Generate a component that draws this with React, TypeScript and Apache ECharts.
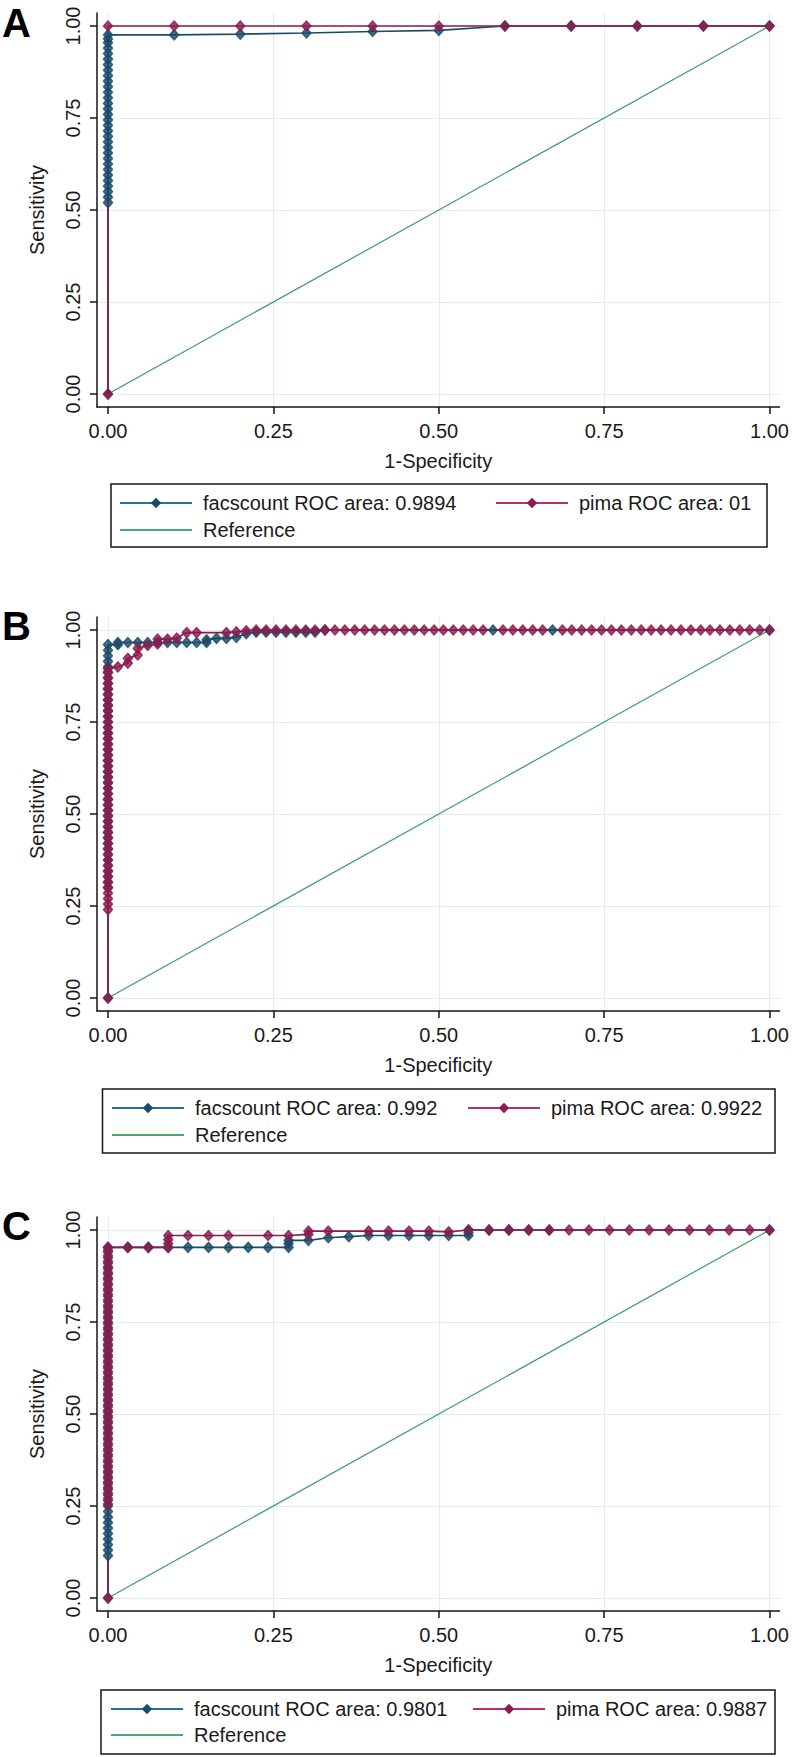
import React, { useEffect, useRef } from "react";
import * as echarts from "echarts";

const FONT = "'Liberation Sans', Arial, Helvetica, sans-serif";

const tickValues = [0, 0.25, 0.5, 0.75, 1];
const panelLetters = ["A", "B", "C"];
const facsNames = ["facscount ROC area: 0.9894", "facscount ROC area: 0.992", "facscount ROC area: 0.9801"];
const pimaNames = ["pima ROC area: 01", "pima ROC area: 0.9922", "pima ROC area: 0.9887"];
const refName = "Reference";

// Reference diagonal
const refLine: [number, number][] = [[0, 0], [1, 1]];

// Panel A
const aFacs: [number, number][] = [
  [0, 0], [0, 0.52], [0, 0.535], [0, 0.55], [0, 0.565], [0, 0.58], [0, 0.595], [0, 0.61], [0, 0.625],
  [0, 0.64], [0, 0.655], [0, 0.67], [0, 0.685], [0, 0.7], [0, 0.715], [0, 0.73], [0, 0.745], [0, 0.76],
  [0, 0.775], [0, 0.79], [0, 0.805], [0, 0.82], [0, 0.835], [0, 0.85], [0, 0.865], [0, 0.88], [0, 0.895],
  [0, 0.91], [0, 0.925], [0, 0.94], [0, 0.955], [0, 0.965], [0, 0.976],
  [0.1, 0.976], [0.2, 0.978], [0.3, 0.981], [0.4, 0.985], [0.5, 0.988], [0.6, 1],
  [0.7, 1], [0.8, 1], [0.9, 1], [1, 1],
];
const aPima: [number, number][] = [
  [0, 0], [0, 1], [0.1, 1], [0.2, 1], [0.3, 1], [0.4, 1], [0.5, 1], [0.6, 1], [0.7, 1], [0.8, 1], [0.9, 1], [1, 1],
];

// Panel B
const bFacs: [number, number][] = [
  [0, 0], [0, 0.3], [0, 0.315], [0, 0.33], [0, 0.345], [0, 0.36], [0, 0.375], [0, 0.39], [0, 0.405],
  [0, 0.42], [0, 0.435], [0, 0.45], [0, 0.465], [0, 0.48], [0, 0.495], [0, 0.51], [0, 0.525], [0, 0.54],
  [0, 0.555], [0, 0.57], [0, 0.585], [0, 0.6], [0, 0.615], [0, 0.63], [0, 0.645], [0, 0.66], [0, 0.675],
  [0, 0.69], [0, 0.705], [0, 0.72], [0, 0.735], [0, 0.75], [0, 0.765], [0, 0.78], [0, 0.795], [0, 0.81],
  [0, 0.825], [0, 0.84], [0, 0.855], [0, 0.87], [0, 0.885], [0, 0.9], [0, 0.915], [0, 0.93], [0, 0.945], [0, 0.96],
  [0.015, 0.96], [0.015, 0.966], [0.03, 0.966], [0.045, 0.966], [0.06, 0.966], [0.075, 0.966], [0.09, 0.966],
  [0.104, 0.966], [0.119, 0.966], [0.134, 0.966], [0.149, 0.966], [0.149, 0.973], [0.164, 0.977], [0.179, 0.977],
  [0.194, 0.98], [0.209, 0.99], [0.224, 0.994], [0.239, 0.994], [0.254, 0.994], [0.269, 0.994], [0.284, 0.994],
  [0.299, 0.994], [0.313, 0.994], [0.328, 1], [0.582, 1], [0.672, 1], [1, 1],
];
const bPima: [number, number][] = [
  [0, 0], [0, 0.24], [0, 0.255], [0, 0.27], [0, 0.285], [0, 0.3], [0, 0.315], [0, 0.33], [0, 0.345], [0, 0.36],
  [0, 0.375], [0, 0.39], [0, 0.405], [0, 0.42], [0, 0.435], [0, 0.45], [0, 0.465], [0, 0.48], [0, 0.495],
  [0, 0.51], [0, 0.525], [0, 0.54], [0, 0.555], [0, 0.57], [0, 0.585], [0, 0.6], [0, 0.615], [0, 0.63],
  [0, 0.645], [0, 0.66], [0, 0.675], [0, 0.69], [0, 0.705], [0, 0.72], [0, 0.735], [0, 0.75], [0, 0.765],
  [0, 0.78], [0, 0.795], [0, 0.81], [0, 0.825], [0, 0.84], [0, 0.855], [0, 0.87], [0, 0.885], [0, 0.895],
  [0.015, 0.9], [0.03, 0.91], [0.03, 0.923], [0.045, 0.932], [0.045, 0.95], [0.06, 0.958], [0.075, 0.962],
  [0.075, 0.975], [0.09, 0.975], [0.104, 0.978], [0.119, 0.993], [0.134, 0.993], [0.179, 0.993], [0.194, 0.995],
  [0.209, 0.998], [0.224, 1], [0.239, 1], [0.254, 1], [0.269, 1], [0.284, 1], [0.299, 1], [0.313, 1], [0.328, 1],
  [0.343, 1], [0.358, 1], [0.373, 1], [0.388, 1], [0.403, 1], [0.418, 1], [0.433, 1], [0.448, 1], [0.463, 1],
  [0.478, 1], [0.493, 1], [0.507, 1], [0.522, 1], [0.537, 1], [0.552, 1], [0.567, 1], [0.597, 1], [0.612, 1],
  [0.627, 1], [0.642, 1], [0.657, 1], [0.687, 1], [0.701, 1], [0.716, 1], [0.731, 1], [0.746, 1], [0.761, 1],
  [0.776, 1], [0.791, 1], [0.806, 1], [0.821, 1], [0.836, 1], [0.851, 1], [0.866, 1], [0.881, 1], [0.896, 1],
  [0.91, 1], [0.925, 1], [0.94, 1], [0.955, 1], [0.97, 1], [0.985, 1], [1, 1],
];

// Panel C
const cFacs: [number, number][] = [
  [0, 0], [0, 0.115], [0, 0.13], [0, 0.145], [0, 0.16], [0, 0.175], [0, 0.19], [0, 0.205], [0, 0.22],
  [0, 0.235], [0, 0.25], [0, 0.265], [0, 0.28], [0, 0.295], [0, 0.31], [0, 0.325], [0, 0.34], [0, 0.355],
  [0, 0.37], [0, 0.385], [0, 0.4], [0, 0.415], [0, 0.43], [0, 0.445], [0, 0.46], [0, 0.475], [0, 0.49],
  [0, 0.505], [0, 0.52], [0, 0.535], [0, 0.55], [0, 0.565], [0, 0.58], [0, 0.595], [0, 0.61], [0, 0.625],
  [0, 0.64], [0, 0.655], [0, 0.67], [0, 0.685], [0, 0.7], [0, 0.715], [0, 0.73], [0, 0.745], [0, 0.76],
  [0, 0.775], [0, 0.79], [0, 0.805], [0, 0.82], [0, 0.835], [0, 0.85], [0, 0.865], [0, 0.88], [0, 0.895],
  [0, 0.91], [0, 0.925], [0, 0.94], [0, 0.953],
  [0.03, 0.953], [0.061, 0.953], [0.091, 0.953], [0.121, 0.953], [0.152, 0.953], [0.182, 0.953], [0.212, 0.953],
  [0.242, 0.953], [0.273, 0.953], [0.273, 0.963], [0.273, 0.972], [0.303, 0.972], [0.333, 0.979], [0.364, 0.982],
  [0.394, 0.985], [0.424, 0.985], [0.455, 0.985], [0.485, 0.985], [0.515, 0.985], [0.545, 0.985], [0.545, 0.993],
  [0.545, 1], [0.576, 1], [0.606, 1], [0.636, 1], [0.667, 1], [1, 1],
];
const cPima: [number, number][] = [
  [0, 0], [0, 0.255], [0, 0.27], [0, 0.285], [0, 0.3], [0, 0.315], [0, 0.33], [0, 0.345], [0, 0.36], [0, 0.375],
  [0, 0.39], [0, 0.405], [0, 0.42], [0, 0.435], [0, 0.45], [0, 0.465], [0, 0.48], [0, 0.495], [0, 0.51],
  [0, 0.525], [0, 0.54], [0, 0.555], [0, 0.57], [0, 0.585], [0, 0.6], [0, 0.615], [0, 0.63], [0, 0.645],
  [0, 0.66], [0, 0.675], [0, 0.69], [0, 0.705], [0, 0.72], [0, 0.735], [0, 0.75], [0, 0.765], [0, 0.78],
  [0, 0.795], [0, 0.81], [0, 0.825], [0, 0.84], [0, 0.855], [0, 0.87], [0, 0.885], [0, 0.9], [0, 0.915],
  [0, 0.93], [0, 0.945], [0, 0.953],
  [0.03, 0.953], [0.061, 0.953], [0.091, 0.953], [0.091, 0.963], [0.091, 0.974], [0.091, 0.985], [0.121, 0.985],
  [0.152, 0.985], [0.182, 0.985], [0.242, 0.985], [0.273, 0.985], [0.303, 0.988], [0.303, 0.997], [0.333, 0.997],
  [0.394, 0.997], [0.424, 0.997], [0.455, 0.997], [0.485, 0.997], [0.515, 0.995], [0.545, 1], [0.576, 1],
  [0.606, 1], [0.636, 1], [0.667, 1], [0.697, 1], [0.727, 1], [0.758, 1], [0.788, 1], [0.818, 1], [0.848, 1],
  [0.879, 1], [0.909, 1], [0.939, 1], [0.97, 1], [1, 1],
];

const facsData = [aFacs, bFacs, cFacs];
const pimaData = [aPima, bPima, cPima];

// Colours
const BLUE = "#1c4b69";
const PINK = "#8b1c4f";
const GREEN = "#3a9b62";
const GRIDC = "#e2eded";
const AXISC = "#151515";
const TEXTC = "#1a1a1a";

// Layout (pixels)
const panelTop = [26, 630, 1230]; // y of sensitivity = 1.00
const legendBox = [
  { x: 111, y: 484, w: 656, h: 63 },
  { x: 102.5, y: 1089, w: 672.5, h: 64 },
  { x: 101, y: 1690, w: 674, h: 64 },
];
const legendLeft = [[119, 495], [111, 467], [110, 472]];
const legendRowY = [[503, 530], [1108, 1135], [1709, 1735]];
const letterY = [8, 611, 1211];

export default function App() {
  const ref = useRef<HTMLDivElement>(null);
  useEffect(() => {
    if (!ref.current) return;
    const chart = echarts.init(ref.current, undefined, { renderer: "svg" });
    const grids: any[] = [];
    const xAxes: any[] = [];
    const yAxes: any[] = [];
    const series: any[] = [];
    const legends: any[] = [];
    const graphics: any[] = [];
    const xMin = -11 / 662, xMax = 1 + 10 / 662;
    const yMin = -13 / 368, yMax = 1 + 13 / 368;
    for (let p = 0; p < 3; p++) {
      grids.push({ left: 97, right: 12, top: panelTop[p] - 13, height: 394, containLabel: false });
      xAxes.push({
        gridIndex: p, type: "value", min: xMin, max: xMax,
        axisLine: { show: true, onZero: false, lineStyle: { color: AXISC, width: 1.5 } },
        axisTick: { show: true, length: 7, customValues: tickValues, lineStyle: { color: AXISC, width: 1.5 } },
        axisLabel: {
          customValues: tickValues, formatter: (v: number) => Number(v).toFixed(2), margin: 14,
          fontSize: 20, color: TEXTC, fontFamily: FONT,
        },
        splitLine: { show: false },
        name: "1-Specificity", nameLocation: "middle", nameGap: 44,
        nameTextStyle: { fontSize: 20, color: TEXTC, fontFamily: FONT },
      });
      yAxes.push({
        gridIndex: p, type: "value", min: yMin, max: yMax,
        axisLine: { show: true, onZero: false, lineStyle: { color: AXISC, width: 1.5 } },
        axisTick: { show: true, length: 7, customValues: tickValues, lineStyle: { color: AXISC, width: 1.5 } },
        axisLabel: {
          customValues: tickValues, formatter: (v: number) => Number(v).toFixed(2), margin: 14, rotate: 90,
          fontSize: 20, color: TEXTC, fontFamily: FONT,
        },
        splitLine: { show: false },
        name: "Sensitivity", nameLocation: "middle", nameGap: 50,
        nameTextStyle: { fontSize: 20, color: TEXTC, fontFamily: FONT },
      });
      series.push({
        type: "line", name: refName, xAxisIndex: p, yAxisIndex: p, data: refLine,
        symbol: "none", lineStyle: { color: GREEN, width: 1.2 }, itemStyle: { color: GREEN }, z: 1, silent: true,
        markLine: {
          silent: true, z: 0, symbol: ["none", "none"], label: { show: false }, animation: false,
          lineStyle: { color: GRIDC, width: 1.2, type: "solid" },
          emphasis: { disabled: true },
          data: [...tickValues.map((v) => ({ xAxis: v })), ...tickValues.map((v) => ({ yAxis: v }))],
        },
      });
      series.push({
        type: "line", name: facsNames[p], xAxisIndex: p, yAxisIndex: p, data: facsData[p],
        symbol: "diamond", showSymbol: false, lineStyle: { color: BLUE, width: 1.7 }, itemStyle: { color: BLUE }, z: 2, silent: true,
      });
      series.push({
        type: "line", name: pimaNames[p], xAxisIndex: p, yAxisIndex: p, data: pimaData[p],
        symbol: "diamond", showSymbol: false, lineStyle: { color: PINK, width: 1.7 }, itemStyle: { color: PINK }, z: 2, silent: true,
      });
      series.push({
        type: "scatter", name: facsNames[p], xAxisIndex: p, yAxisIndex: p, data: facsData[p],
        symbol: "diamond", symbolSize: [9, 10],
        itemStyle: { color: BLUE, borderColor: BLUE, borderWidth: 1.6, borderJoin: "round" }, z: 3, silent: true,
      });
      series.push({
        type: "scatter", name: pimaNames[p], xAxisIndex: p, yAxisIndex: p, data: pimaData[p],
        symbol: "diamond", symbolSize: [9, 10],
        itemStyle: { color: PINK, borderColor: PINK, borderWidth: 1.6, borderJoin: "round" }, z: 4, silent: true,
      });
      const common = {
        orient: "horizontal", padding: 0, itemWidth: 72, itemHeight: 13, itemGap: 0, selectedMode: false,
        textStyle: { fontSize: 20, color: TEXTC, fontFamily: FONT, padding: [0, 0, 0, 6] },
      };
      legends.push({ ...common, data: [facsNames[p]], left: legendLeft[p][0], top: legendRowY[p][0] - 10,
        lineStyle: { color: "#2b6e9b", width: 2 }, itemStyle: { borderWidth: 0 } });
      legends.push({ ...common, data: [pimaNames[p]], left: legendLeft[p][1], top: legendRowY[p][0] - 10,
        lineStyle: { color: "#bd2c6a", width: 2 }, itemStyle: { borderWidth: 0 } });
      legends.push({ ...common, data: [refName], left: legendLeft[p][0], top: legendRowY[p][1] - 10,
        lineStyle: { color: "#48aa75", width: 2 }, itemStyle: { color: "rgba(0,0,0,0)", borderWidth: 0 } });
      const b = legendBox[p];
      graphics.push({
        type: "rect", shape: { x: b.x, y: b.y, width: b.w, height: b.h },
        style: { fill: "none", stroke: AXISC, lineWidth: 1.5 }, silent: true,
      });
      graphics.push({
        type: "text", x: 2, y: letterY[p],
        style: {
          text: panelLetters[p], fontSize: 40, lineHeight: 30, fontWeight: "bold", fontFamily: FONT,
          fill: "#000", verticalAlign: "top",
        },
        silent: true,
      });
    }
    chart.setOption({
      animation: false,
      backgroundColor: "#ffffff",
      grid: grids,
      xAxis: xAxes,
      yAxis: yAxes,
      legend: legends,
      series,
      graphic: graphics,
    });
    return () => chart.dispose();
  }, []);
  return (
    <div
      ref={ref}
      style={{ position: "absolute", left: 0, top: 0, width: 792, height: 1757, background: "#fff" }}
    />
  );
}
